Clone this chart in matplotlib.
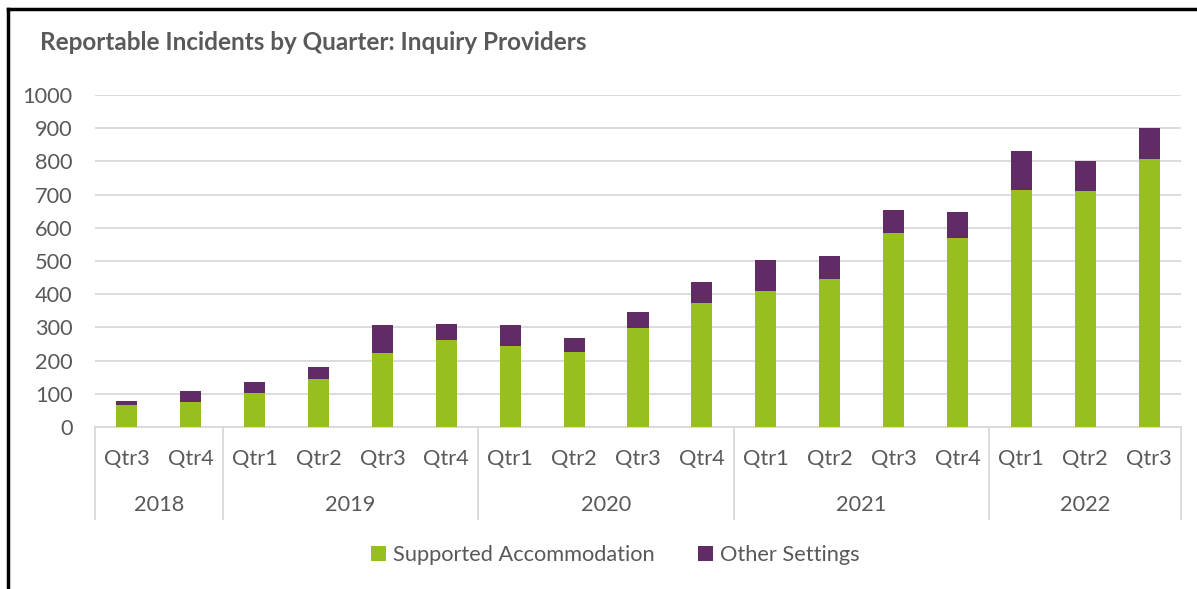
import matplotlib
matplotlib.use('Agg')
import matplotlib.pyplot as plt
from matplotlib.lines import Line2D
import numpy as np

plt.rcParams['font.family'] = ['Lato', 'DejaVu Sans']

QUARTERS = ['Qtr3', 'Qtr4',
            'Qtr1', 'Qtr2', 'Qtr3', 'Qtr4',
            'Qtr1', 'Qtr2', 'Qtr3', 'Qtr4',
            'Qtr1', 'Qtr2', 'Qtr3', 'Qtr4',
            'Qtr1', 'Qtr2', 'Qtr3']
YEARS = ['2018', '2019', '2020', '2021', '2022']
QTRS_PER_YEAR = [2, 4, 4, 4, 3]

supported = [65, 76, 103, 144, 223, 261, 245, 227, 299, 373, 411, 445, 583, 568, 714, 710, 806]
other = [12, 31, 32, 37, 84, 50, 62, 42, 47, 65, 91, 69, 71, 81, 118, 92, 96]

GREEN = '#97BF1F'
PURPLE = '#612B66'
GRID = '#D9D9D9'
TEXT = '#595959'
FS = 15.7

W, H = 1197, 589
fig = plt.figure(figsize=(W / 100, H / 100), dpi=100)
ax = fig.add_axes([95 / W, 1 - 427 / H, (1181 - 95) / W, (427 - 95) / H])

x = np.arange(len(QUARTERS))
ax.bar(x, supported, width=0.33, color=GREEN, label='Supported Accommodation', zorder=3)
ax.bar(x, other, width=0.33, bottom=supported, color=PURPLE, label='Other Settings', zorder=3)

ax.set_xlim(-0.5, len(QUARTERS) - 0.5)
ax.set_ylim(0, 1000)
ax.set_yticks(range(0, 1001, 100))
ax.yaxis.grid(True, color=GRID, linewidth=1.3, zorder=0)
for s in ['top', 'right', 'left']:
    ax.spines[s].set_visible(False)
ax.spines['bottom'].set_color(GRID)
ax.spines['bottom'].set_linewidth(1.3)
ax.tick_params(axis='y', length=0, pad=16, labelsize=FS, labelcolor=TEXT)
ax.set_xticks([])

# two-level category axis
trans = ax.get_xaxis_transform()
for i, q in enumerate(QUARTERS):
    ax.text(i, -0.096, q, transform=trans, ha='center', va='center', fontsize=FS, color=TEXT)

edges = np.concatenate([[0], np.cumsum(QTRS_PER_YEAR)]) - 0.5
for k, yr in enumerate(YEARS):
    ax.text((edges[k] + edges[k + 1]) / 2, -0.235, yr, transform=trans,
            ha='center', va='center', fontsize=FS, color=TEXT)
for e in edges:
    ax.add_line(Line2D([e, e], [0, -0.277], transform=trans, color=GRID,
                       linewidth=1.3, clip_on=False))

fig.text(40 / W, 1 - 42 / H, 'Reportable Incidents by Quarter: Inquiry Providers',
         fontsize=17.5, fontweight='bold', color=TEXT, va='center', ha='left')

leg = fig.legend(loc='center', bbox_to_anchor=(615 / W, 1 - 555 / H), ncol=2, frameon=False,
                 fontsize=FS, handlelength=0.7, handleheight=0.7, handletextpad=0.3,
                 columnspacing=2.0)
for t in leg.get_texts():
    t.set_color(TEXT)

# black frame on top and left
fig.add_artist(Line2D([8 / W, 1], [1 - 9 / H, 1 - 9 / H], color='black', linewidth=2.5))
fig.add_artist(Line2D([8 / W, 8 / W], [0, 1 - 9 / H], color='black', linewidth=2.5))

fig.savefig('out.png', dpi=100, facecolor='white')
